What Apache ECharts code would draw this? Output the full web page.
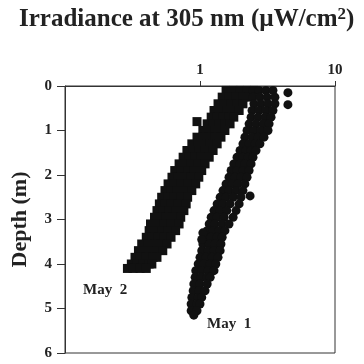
<!DOCTYPE html>
<html>
<head>
<meta charset="utf-8">
<script src="https://cdn.jsdelivr.net/npm/echarts@6/dist/echarts.min.js"></script>
<style>
html, body { margin: 0; padding: 0; background: #fff; }
#chart { width: 364px; height: 364px; }
</style>
</head>
<body>
<div id="chart"></div>
<script>
// irradiance at 305 nm (uW/cm2), one row per depth (m)
var may2Rows = [
    [0.10, [1.56, 1.76, 1.98, 2.23, 2.51]],
    [0.25, [1.46, 1.64, 1.85, 2.08, 2.31]],
    [0.40, [1.36, 1.51, 1.70, 1.88, 2.08]],
    [0.55, [1.27, 1.41, 1.58, 1.76, 1.95]],
    [0.70, [1.21, 1.34, 1.48, 1.64, 1.78]],
    [0.85, [1.13, 1.25, 1.38, 1.53, 1.67]],
    [1.00, [1.05, 1.17, 1.29, 1.43, 1.53]],
    [1.15, [0.95, 1.05, 1.17, 1.29, 1.43]],
    [1.30, [0.87, 0.97, 1.07, 1.19, 1.34]],
    [1.45, [0.80, 0.89, 0.98, 1.09, 1.25]],
    [1.60, [0.75, 0.83, 0.92, 1.02, 1.17]],
    [1.75, [0.70, 0.77, 0.86, 0.97, 1.09]],
    [1.90, [0.65, 0.72, 0.81, 0.90, 1.03]],
    [2.05, [0.62, 0.69, 0.77, 0.86, 0.98]],
    [2.20, [0.58, 0.64, 0.72, 0.81, 0.93]],
    [2.35, [0.55, 0.61, 0.68, 0.76, 0.87]],
    [2.50, [0.52, 0.58, 0.64, 0.72, 0.81]],
    [2.65, [0.50, 0.55, 0.61, 0.69, 0.79]],
    [2.80, [0.48, 0.53, 0.59, 0.66, 0.76]],
    [2.95, [0.46, 0.51, 0.56, 0.63, 0.72]],
    [3.10, [0.43, 0.48, 0.54, 0.61, 0.70]],
    [3.25, [0.42, 0.46, 0.52, 0.58, 0.66]],
    [3.40, [0.40, 0.44, 0.49, 0.54, 0.61]],
    [3.55, [0.37, 0.41, 0.46, 0.51, 0.57]],
    [3.70, [0.35, 0.39, 0.43, 0.48, 0.53]],
    [3.85, [0.33, 0.36, 0.40, 0.45, 0.48]],
    [4.00, [0.31, 0.34, 0.38, 0.42, 0.44]],
    [4.10, [0.29, 0.32, 0.36, 0.40]]
];
var may2Extra = [[0.95, 0.80]];

var may1Rows = [
    [0.10, [2.47, 2.74, 3.08, 3.47]],
    [0.25, [2.47, 2.78, 3.14, 3.59]],
    [0.40, [2.51, 2.83, 3.19, 3.59]],
    [0.55, [2.43, 2.74, 3.08, 3.47]],
    [0.70, [2.39, 2.69, 3.03, 3.36]],
    [0.85, [2.31, 2.60, 2.93, 3.25]],
    [1.00, [2.23, 2.51, 2.83, 3.19]],
    [1.15, [2.15, 2.43, 2.69, 2.98]],
    [1.30, [2.08, 2.31, 2.56, 2.78]],
    [1.45, [1.98, 2.19, 2.39, 2.60]],
    [1.60, [1.88, 2.08, 2.27, 2.47]],
    [1.75, [1.78, 1.98, 2.15, 2.39]],
    [1.90, [1.70, 1.88, 2.08, 2.31]],
    [2.05, [1.64, 1.82, 2.01, 2.23]],
    [2.20, [1.56, 1.73, 1.91, 2.15]],
    [2.35, [1.48, 1.64, 1.85, 2.08]],
    [2.50, [1.41, 1.56, 1.76, 2.01]],
    [2.65, [1.34, 1.48, 1.67, 1.95]],
    [2.80, [1.27, 1.41, 1.58, 1.85]],
    [2.95, [1.21, 1.34, 1.51, 1.76]],
    [3.10, [1.17, 1.29, 1.46, 1.64]],
    [3.25, [1.13, 1.25, 1.38, 1.53]],
    [3.40, [1.09, 1.21, 1.34, 1.46]],
    [3.55, [1.05, 1.17, 1.29, 1.43]],
    [3.70, [1.03, 1.15, 1.27, 1.41]],
    [3.85, [1.00, 1.11, 1.23, 1.36]],
    [4.00, [0.97, 1.07, 1.19, 1.31]],
    [4.15, [0.93, 1.03, 1.15, 1.27]],
    [4.30, [0.92, 1.02, 1.13, 1.19]],
    [4.45, [0.90, 1.00, 1.13]],
    [4.60, [0.89, 0.98, 1.09]],
    [4.75, [0.87, 0.97, 1.03]],
    [4.90, [0.86, 0.95, 1.00]],
    [5.05, [0.86, 0.95]],
    [5.15, [0.90]]
];
// stray readings sticking out of the May 1 band: [irradiance, depth]
var may1Extra = [[4.48, 0.15], [4.48, 0.42], [2.35, 2.47], [1.05, 3.30], [1.03, 3.45]];

var depthTicks = [0, 1, 2, 3, 4, 5, 6];
var irrTicks = [1, 10];

function toPoints(rows, extra) {
    var pts = [];
    rows.forEach(function (r) {
        r[1].forEach(function (v) { pts.push([v, r[0]]); });
    });
    return pts.concat(extra);
}

var serif = 'Liberation Serif, Times New Roman, serif';
var chart = echarts.init(document.getElementById('chart'));
chart.setOption({
    animation: false,
    backgroundColor: '#fff',
    title: {
        text: 'Irradiance at 305 nm (\u00b5W/cm{sup|2})',
        left: 14,
        top: 1,
        textStyle: {
            fontFamily: serif, fontWeight: 'bold', fontSize: 25, color: '#222',
            rich: { sup: { fontFamily: serif, fontWeight: 'bold', fontSize: 17, color: '#222', verticalAlign: 'top', padding: [0, 0, 10, 0] } }
        }
    },
    grid: { left: 65, right: 29, top: 86, bottom: 11, show: true, borderColor: '#333', borderWidth: 1 },
    xAxis: {
        type: 'log', logBase: 10, min: 0.1, max: 10, position: 'top',
        axisLine: { lineStyle: { color: '#333', width: 1 } },
        axisTick: { show: true, length: 5, customValues: irrTicks, lineStyle: { color: '#333' } },
        minorTick: { show: false },
        splitLine: { show: false },
        axisLabel: { customValues: irrTicks, fontFamily: serif, fontWeight: 'bold', fontSize: 15, color: '#222', margin: 8 }
    },
    yAxis: {
        type: 'value', inverse: true, min: 0, max: 6, interval: 1,
        name: 'Depth (m)', nameLocation: 'middle', nameRotate: 90, nameGap: 34,
        nameTextStyle: { fontFamily: serif, fontWeight: 'bold', fontSize: 22, color: '#222' },
        axisLine: { lineStyle: { color: '#333', width: 1 } },
        axisTick: { length: 8, lineStyle: { color: '#333' } },
        splitLine: { show: false },
        axisLabel: { fontFamily: serif, fontWeight: 'bold', fontSize: 15, color: '#222', margin: 13,
            formatter: function (v) { return depthTicks.indexOf(v) >= 0 ? String(v) : ''; } }
    },
    graphic: [
        { type: 'text', left: 83, top: 283, style: { text: 'May  2', font: 'bold 15px ' + serif, fill: '#222' } },
        { type: 'text', left: 207, top: 317, style: { text: 'May  1', font: 'bold 15px ' + serif, fill: '#222' } }
    ],
    series: [
        {
            name: 'May 2', type: 'scatter', symbol: 'rect', symbolSize: 9,
            itemStyle: { color: '#111', opacity: 1 },
            data: toPoints(may2Rows, may2Extra)
        },
        {
            name: 'May 1', type: 'scatter', symbol: 'circle', symbolSize: 9,
            itemStyle: { color: '#111', opacity: 1 },
            data: toPoints(may1Rows, may1Extra)
        }
    ]
});
</script>
</body>
</html>
